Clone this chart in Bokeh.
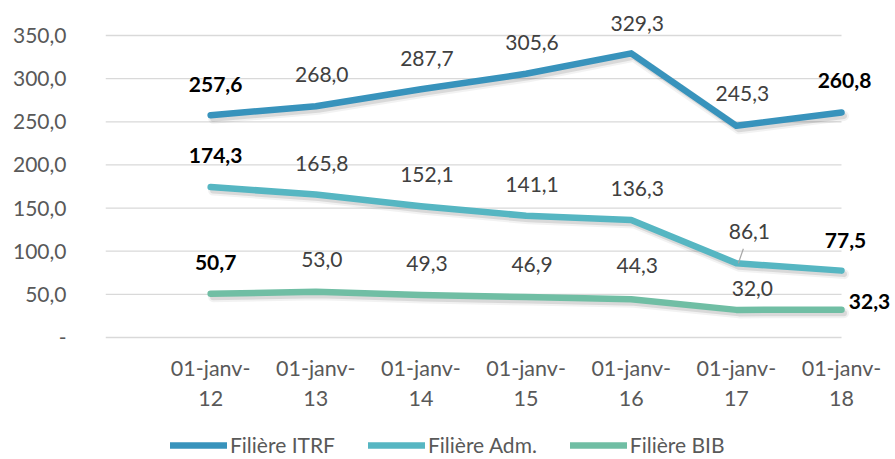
from bokeh.plotting import figure
from bokeh.models import (ColumnDataSource, LabelSet, Range1d, FixedTicker,
                          Legend, LegendItem)
from bokeh.core.properties import value
from bokeh.embed import file_html
from bokeh.resources import INLINE

# ---------------- data ----------------
categories = ["01-janv-12", "01-janv-13", "01-janv-14", "01-janv-15",
              "01-janv-16", "01-janv-17", "01-janv-18"]
itrf = [257.6, 268.0, 287.7, 305.6, 329.3, 245.3, 260.8]
adm = [174.3, 165.8, 152.1, 141.1, 136.3, 86.1, 77.5]
bib = [50.7, 53.0, 49.3, 46.9, 44.3, 32.0, 32.3]
series_names = ["Filière ITRF", "Filière Adm.", "Filière BIB"]
y_ticks = [0, 50, 100, 150, 200, 250, 300, 350]

# ---------------- style ----------------
FONT = "Lato"
colors = ["#3893bc", "#56b6c2", "#70bea4"]
GRID = "#d9d9d9"
AXIS_TXT = "#595959"
LBL_TXT = "#404040"

W, H = 895, 459
MB_L = 105
FRAME_W = W - MB_L
FRAME_H = H
Y0_PX, Y350_PX = 337.0, 35.0
Y_SCALE = (Y0_PX - Y350_PX) / 350.0       # px per unit
Y_END = Y0_PX / Y_SCALE
Y_START = -(H - Y0_PX) / Y_SCALE
X_SCALE = (841.0 - MB_L) / 7.0            # px per category slot
X_END = FRAME_W / X_SCALE
N_SLOTS = 7

# label offsets (px): (dx, dy up) per point
offsets = [
    [(5, 31), (6, 31.5), (6, 31), (6, 31), (6, 30), (6, 32.5), (3, 32)],
    [(5, 31.5), (6, 31), (6, 31.5), (6, 31.5), (6, 31), (13, 31.5), (4, 30)],
    [(5, 31), (6, 32), (6, 31.5), (6, 32.5), (6, 33.5), (16, 21.6), (28, 8)],
]

xs = list(range(1, len(categories) + 1))

p = figure(width=W, height=H, x_range=Range1d(0, X_END), y_range=Range1d(Y_START, Y_END),
           output_backend="svg", toolbar_location=None,
           min_border_left=MB_L, min_border_right=0,
           min_border_top=0, min_border_bottom=0)
p.outline_line_color = None
p.background_fill_color = "white"
p.border_fill_color = "white"

p.extra_x_ranges = {"shx": Range1d(0 - 2.5 / X_SCALE, X_END - 2.5 / X_SCALE)}
p.extra_y_ranges = {"shy": Range1d(Y_START + 3.5 / Y_SCALE, Y_END + 3.5 / Y_SCALE)}

# grid (drawn only across the category slots)
p.xgrid.visible = False
p.ygrid.visible = False
p.segment(x0=[0] * len(y_ticks), x1=[N_SLOTS] * len(y_ticks), y0=y_ticks, y1=y_ticks,
          line_color=GRID, line_width=1.3)

# x axis, drawn at y = 0
p.xaxis.fixed_location = 0
p.xaxis.ticker = FixedTicker(ticks=xs)
p.xaxis.major_label_overrides = {x: c[:8] + "\n" + c[8:] for x, c in zip(xs, categories)}
p.xaxis.axis_line_color = None
p.xaxis.major_tick_line_color = None
p.xaxis.minor_tick_line_color = None
p.xaxis.major_tick_out = 0
p.xaxis.major_tick_in = 0
p.xaxis.major_label_standoff = 17
p.xaxis.major_label_text_font = FONT
p.xaxis.major_label_text_font_size = "21.5px"
p.xaxis.major_label_text_color = AXIS_TXT
p.xaxis.major_label_text_line_height = 1.17

# y axis
p.yaxis.ticker = FixedTicker(ticks=y_ticks)
p.yaxis.major_label_overrides = {t: ("-" if t == 0 else f"{t:.1f}".replace(".", ",")) for t in y_ticks}
p.yaxis.axis_line_color = None
p.yaxis.major_tick_line_color = None
p.yaxis.minor_tick_line_color = None
p.yaxis.major_tick_out = 0
p.yaxis.major_tick_in = 0
p.yaxis.major_label_standoff = 39
p.yaxis.major_label_text_font = FONT
p.yaxis.major_label_text_font_size = "21px"
p.yaxis.major_label_text_color = AXIS_TXT

all_series = [itrf, adm, bib]

# shadows
for vals in all_series:
    p.line(xs, vals, x_range_name="shx", y_range_name="shy", line_width=10,
           line_color="black", line_alpha=0.05, line_join="round", line_cap="round")
    p.line(xs, vals, x_range_name="shx", y_range_name="shy", line_width=6,
           line_color="black", line_alpha=0.10, line_join="round", line_cap="round")

renderers = []
for vals, col in zip(all_series, colors):
    r = p.line(xs, vals, line_width=6.5, line_color=col,
               line_join="round", line_cap="round")
    renderers.append(r)

# leader line for the 01-janv-17 Adm. label
i17 = 5
p.segment(x0=[xs[i17] + 7 / X_SCALE], y0=[adm[i17] + 14.5 / Y_SCALE],
          x1=[xs[i17] + 2 / X_SCALE], y1=[adm[i17]],
          line_color="#a6a6a6", line_width=1.2)

# data labels
lx, ly, lt, lc, lsty, ldx, ldy = [], [], [], [], [], [], []
for vals, offs in zip(all_series, offsets):
    n = len(vals)
    for i, (v, (dx, dy)) in enumerate(zip(vals, offs)):
        lx.append(xs[i]); ly.append(v)
        lt.append(f"{v:.1f}".replace(".", ","))
        edge = i in (0, n - 1)
        lc.append("black" if edge else LBL_TXT)
        lsty.append("bold" if edge else "normal")
        ldx.append(dx); ldy.append(dy)
src = ColumnDataSource(dict(x=lx, y=ly, text=lt, color=lc, style=lsty, dx=ldx, dy=ldy))
labels = LabelSet(x="x", y="y", text="text", source=src, x_offset="dx", y_offset="dy",
                  text_align="center", text_baseline="middle",
                  text_font=value(FONT), text_font_size="21px",
                  text_color="color", text_font_style="style")
p.add_layout(labels)

# legend
legend = Legend(items=[LegendItem(label=n, renderers=[r]) for n, r in zip(series_names, renderers)],
                orientation="horizontal", location=(65, 2),
                glyph_width=57, glyph_height=20, label_standoff=3, spacing=33,
                padding=0, margin=0, border_line_color=None, background_fill_alpha=0,
                label_text_font=FONT, label_text_font_size="21px",
                label_text_color=AXIS_TXT)
p.add_layout(legend)

open("out.html", "w").write(file_html(p, INLINE))
